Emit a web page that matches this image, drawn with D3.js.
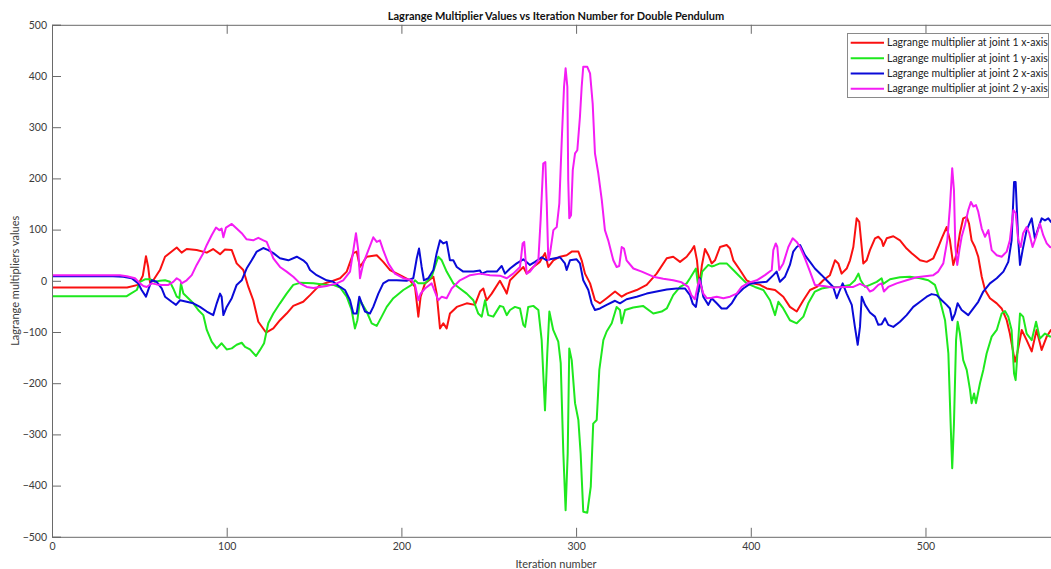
<!DOCTYPE html>
<html><head><meta charset="utf-8">
<script src="https://cdn.jsdelivr.net/npm/d3@7"></script>
<style>body{margin:0;background:#fff}svg{display:block}text{font-family:Lato,"Open Sans",sans-serif}</style>
</head><body><svg id="c" width="1051" height="569"></svg>
<script>
const titleText = "Lagrange Multiplier Values vs Iteration Number for Double Pendulum";
const xLabel = "Iteration number";
const yLabel = "Lagrange multipliers values";
const xTicks = [0,100,200,300,400,500];
const yTicks = [-500,-400,-300,-200,-100,0,100,200,300,400,500];
const seriesNames = ["Lagrange multiplier at joint 1 x-axis","Lagrange multiplier at joint 1 y-axis","Lagrange multiplier at joint 2 x-axis","Lagrange multiplier at joint 2 y-axis"];
const seriesColors = ["#fa1010","#1ee81e","#0a0ad8","#f41cf4"];

const joint1X = [[0,-13],[43,-13],[49.2,-8],[52,10],[53.8,48],[55,28],[56.1,-3],[57.8,0],[61.8,21],[64.7,47],[71.4,65],[74.2,55],[77.1,62],[82.8,60],[88.6,55],[92.2,62],[96.2,52],[99,61],[102.9,60],[105.7,34],[109.5,21],[112.4,-12],[115.2,-38],[118.1,-80],[122.5,-101],[126.7,-93],[130.5,-77],[134.3,-64],[138.1,-49],[143.8,-41],[147.7,-28],[153.4,-8],[159.1,-2],[164.9,5],[168.7,18],[172.5,54],[174.4,57],[176.3,27],[180.1,47],[185.9,50],[189.6,37],[193.5,21],[199.2,11],[204.9,1],[207.8,-12],[209.7,-70],[211,-31],[213.5,-5],[218.3,8],[220.2,-25],[222.1,-93],[224,-83],[225.9,-93],[227.8,-64],[231.7,-51],[237.4,-44],[242.1,-47],[245,-21],[246.9,-15],[248.8,-38],[251.7,-25],[256.4,0],[259.3,-18],[260.3,-25],[262.2,1],[266,14],[269.8,27],[271.7,14],[275.5,27],[279.3,37],[282.2,54],[284.1,27],[287,40],[290.8,47],[294.6,50],[297.5,57],[301.3,57],[303.2,40],[305.1,14],[308,-5],[310.8,-38],[313.7,-44],[317.5,-34],[322.3,-21],[326.1,-31],[329,-25],[334.7,-18],[340.4,-8],[346.1,14],[351.9,44],[355.6,47],[359.5,37],[363.3,47],[366.2,60],[367.6,68],[369.2,40],[370.6,-12],[372,30],[373.8,62],[375.7,50],[377.6,34],[379.5,40],[382.4,66],[386.2,70],[388.1,63],[390,40],[393.8,21],[397.6,1],[401.4,-5],[405.3,-8],[409.1,-15],[413.9,-18],[418.6,-31],[422.4,-51],[426.3,-60],[430.1,-38],[433.9,-18],[437.7,-12],[441.5,1],[445.3,11],[448.2,40],[450.1,34],[452,14],[454.9,24],[456.8,40],[458.7,66],[460.6,122],[462.1,115],[463.5,66],[464.4,34],[466.3,40],[468.2,60],[471.1,83],[473,86],[474.9,79],[475.8,68],[477.8,83],[481.6,87],[485.4,79],[489.2,63],[492.1,54],[496.9,40],[500.7,37],[504.5,44],[507.3,66],[509.3,83],[512.1,105],[514,79],[515.9,31],[517.9,54],[519.7,93],[521.6,122],[523.6,125],[524.9,112],[526.4,79],[528.3,66],[530.2,47],[532.2,8],[534.1,-18],[536.9,-34],[540.8,-44],[543.6,-54],[546.5,-77],[548.3,-103],[551.2,-158],[552.5,-142],[555.1,-96],[557.9,-116],[560.8,-138],[563.6,-96],[566.5,-135],[569.4,-109],[571.8,-96],[577,-100]];

const joint1Y = [[0,-30],[42.8,-30],[44.6,-26],[48.5,-18],[50.4,-2],[53.2,3],[56.1,3],[59,-2],[61.8,0],[64.7,1],[67.5,-2],[69.4,-15],[71.4,-31],[72.9,-34],[73.8,-5],[75.2,-25],[78,-34],[80.9,-44],[83.7,-57],[86.6,-67],[88.6,-96],[91.4,-119],[94.3,-132],[97.1,-122],[100,-134],[102.9,-132],[105.7,-125],[108.6,-121],[110.5,-129],[113.3,-134],[116.8,-147],[119.1,-135],[121.4,-122],[123.8,-83],[126.7,-64],[130.5,-44],[134.3,-25],[138.1,-8],[142,-4],[149.6,-5],[157.2,-8],[161,-8],[164.9,-13],[168.7,-31],[171.5,-57],[173.4,-93],[174.8,-77],[176.3,-38],[180.1,-60],[183,-83],[185.9,-88],[188.7,-70],[191.6,-51],[195.4,-34],[201.1,-18],[205.9,-8],[207.8,1],[209.7,-5],[213.5,-5],[217.3,8],[221.1,47],[223.1,40],[225.9,18],[229.7,-5],[233.5,-15],[237.4,-25],[241.2,-38],[244,-64],[246,-70],[247.9,-38],[249.7,-67],[252.6,-70],[256.4,-49],[258.3,-51],[260.3,-67],[262.2,-57],[265,-51],[267.9,-54],[269.8,-86],[270.8,-90],[272.6,-51],[275.5,-49],[278.4,-57],[280.3,-116],[282.2,-253],[283.5,-142],[284.7,-60],[286.9,-96],[289.8,-119],[291.2,-161],[292.7,-337],[294,-448],[295.2,-337],[296.1,-132],[297.5,-155],[299.4,-239],[301.3,-272],[302.6,-337],[304.1,-451],[306.4,-453],[308.4,-402],[309.8,-279],[311.8,-272],[313.3,-174],[315.6,-116],[317.5,-99],[320.4,-83],[323.2,-51],[325.1,-57],[326.1,-83],[328,-57],[332.7,-52],[338.3,-49],[344.2,-64],[349,-60],[351.9,-54],[355.6,-28],[359.5,-12],[363.3,-5],[365.2,5],[368.6,24],[370.3,-21],[372.2,18],[375.7,31],[377.6,28],[379.5,30],[382.4,34],[386.2,34],[390,21],[393.8,8],[397.6,-5],[402.4,-12],[407.2,-18],[411,-38],[413.9,-67],[415.8,-41],[418.6,-54],[422.4,-77],[426.3,-83],[430.1,-70],[432.9,-44],[436.7,-21],[440.6,-15],[445.3,-12],[451,-12],[456.8,-8],[459.6,1],[461.6,14],[462.9,1],[465.4,-12],[468.2,-8],[472.1,-2],[474.9,5],[475.8,-6],[479.7,3],[485.4,7],[491.1,8],[496.9,5],[501.6,1],[505.4,-8],[508.3,-38],[511.2,-77],[513.1,-142],[514.4,-279],[515.3,-366],[516.3,-279],[517.5,-116],[518.4,-80],[519.7,-103],[521.6,-155],[523.6,-174],[525.5,-213],[526.4,-239],[527.8,-220],[528.9,-239],[531.2,-200],[533.1,-174],[535,-142],[537.9,-109],[540.8,-96],[543.6,-64],[545.5,-59],[547.4,-70],[549.3,-96],[550.7,-181],[551.6,-194],[552.5,-148],[554.1,-64],[555.9,-70],[557.9,-103],[560.8,-116],[563.3,-80],[565.5,-113],[568.4,-103],[571.3,-109],[577,-105]];

const joint2X = [[0,9],[34.9,9],[40.8,8],[45.6,5],[49.4,-5],[51.3,-18],[53.8,-31],[55.7,-12],[57.1,1],[59.9,-2],[62.8,-15],[64.7,-31],[68.5,-41],[71,-47],[73.3,-38],[77.1,-41],[80.9,-44],[84.7,-51],[88.6,-60],[92.3,-67],[94.3,-44],[96.2,-25],[97.1,-31],[98.1,-67],[100,-51],[102.9,-34],[105.7,-8],[108.6,1],[111.4,24],[114.3,40],[117.2,57],[120.9,64],[123.8,60],[126.7,54],[130.5,44],[135.3,40],[140.1,47],[143.8,40],[145.8,34],[147.7,21],[151.5,11],[157.2,1],[161,-2],[164.9,-12],[167.7,-18],[170.6,-38],[172.5,-64],[174.4,-64],[175.9,-31],[177.3,-44],[179.2,-60],[182,-64],[183.9,-51],[186.8,-25],[189.6,-5],[192.5,1],[197.3,1],[203,0],[206.8,5],[208.8,44],[210.1,63],[211.6,27],[212.9,1],[215.4,5],[218.3,21],[220.2,54],[222.1,79],[224,73],[225.9,76],[227.8,40],[229.7,40],[231.7,27],[235.4,18],[241.2,18],[245,20],[246,14],[248.8,18],[254.6,18],[257.4,29],[259.3,14],[262.2,24],[266,34],[269.8,42],[273.6,31],[276.5,37],[280.3,46],[283.2,40],[285.1,42],[287.9,44],[290.8,46],[293.6,34],[294.6,21],[296.5,40],[300.3,42],[302.2,34],[304.1,1],[307,-18],[308.9,-44],[310.8,-57],[313.7,-54],[317.5,-47],[322.3,-39],[325.1,-44],[328.9,-36],[334.7,-31],[340.4,-25],[346.1,-21],[351.9,-17],[357.6,-15],[362.3,-15],[365.2,-28],[366.8,-45],[368.6,-51],[370.2,-15],[370.9,5],[372.8,-31],[375.7,-47],[377.6,-34],[380.5,-44],[383.3,-54],[386.2,-54],[389.1,-44],[391.9,-28],[395.7,-15],[399.5,-6],[403.4,-4],[409.1,-2],[412.9,11],[414.8,18],[416.7,-2],[419.6,8],[422.4,31],[424.3,57],[426.3,66],[428.2,70],[431,50],[433.9,37],[436.7,24],[440.6,11],[443.4,1],[447.2,-12],[449.2,-34],[451,-18],[452.6,-5],[454.9,-25],[457.8,-47],[459.6,-90],[461.2,-125],[462.5,-90],[463.5,-31],[465.4,-47],[468.2,-62],[471.1,-70],[473,-86],[474.9,-85],[476.8,-73],[478.7,-86],[481.6,-90],[485.4,-80],[489.2,-67],[493,-51],[496.9,-41],[500.7,-31],[503.5,-26],[506.4,-28],[509.3,-38],[512.1,-47],[514,-54],[515.3,-77],[516.9,-64],[518.4,-44],[520.7,-57],[524.5,-67],[527.4,-54],[530.2,-41],[533.1,-21],[536.9,-5],[540.8,5],[544.6,18],[547.4,37],[549.3,79],[550.7,193],[551.6,193],[553.1,79],[554.1,31],[555.6,60],[557.9,99],[560.8,122],[562.6,83],[564.5,102],[566.5,122],[568.4,118],[570.3,122],[571.8,115],[577,118]];

const joint2Y = [[0,11],[38.9,11],[42.8,9],[47.5,5],[50.4,-5],[52.3,-10],[54.2,-12],[57.1,-5],[59.9,-7],[62.8,-8],[66.6,-8],[69.4,-2],[71.4,5],[73.3,1],[74.2,-5],[77.1,1],[80,11],[82.8,31],[86.6,54],[88.6,70],[91.4,89],[93.9,104],[95.8,99],[97.1,102],[98.1,85],[99.6,104],[102.9,111],[105.7,102],[108.6,93],[111.4,81],[115.2,79],[118.1,84],[121,79],[122.9,76],[126.7,44],[130.5,27],[134.3,18],[138.1,8],[142,-5],[145.8,-12],[149.6,-14],[157.2,-10],[163,-5],[166.7,1],[170.6,18],[172.5,60],[174,93],[175.3,60],[176.3,5],[178.2,34],[181.1,60],[183.9,85],[185.9,76],[187.7,79],[189.6,60],[192.5,34],[196.3,14],[201.1,5],[205.9,1],[207.8,-8],[209.7,-38],[211,-25],[213.5,-15],[217.3,-5],[221.1,-38],[223.1,-31],[225.9,-34],[228.8,-15],[233.5,1],[239.3,11],[245,14],[250.7,11],[256.4,10],[260.3,5],[264,14],[267.9,27],[269.4,73],[270.3,76],[271.7,14],[273.6,18],[276.5,31],[278.4,40],[279.7,119],[281.2,229],[282.4,232],[283.2,151],[284.1,40],[285.1,54],[287,99],[288.9,105],[290.4,151],[291.8,275],[293.1,379],[294,415],[295,379],[295.5,197],[296.1,122],[297.1,128],[298.1,216],[299.4,249],[300.7,255],[302.2,320],[303.2,379],[304.1,418],[306.4,418],[308,405],[309.5,346],[310.8,249],[312.7,210],[314.7,158],[316.5,99],[318.4,79],[321.3,40],[323.2,27],[324.7,29],[326.1,66],[327.4,63],[328.9,40],[332.8,24],[337.6,18],[344.2,8],[349.9,4],[355.6,1],[360.4,-3],[364.2,-12],[366,-28],[368,-36],[370.5,3],[372.8,-25],[374.8,-34],[377.6,-33],[380.5,-31],[384.3,-34],[388.1,-31],[391.9,-25],[394.8,-12],[398.6,-4],[403.4,1],[408.1,11],[412,21],[412.9,60],[414.3,73],[415.2,66],[416.3,21],[418.6,34],[421.5,66],[424,83],[426.3,76],[428.2,66],[431,44],[433.9,18],[436.7,-8],[441.5,-10],[447.2,-13],[452.9,-12],[458.7,-12],[462.5,-6],[466.3,-12],[468.2,-21],[470.1,-18],[473,-8],[474.9,-5],[476.2,-21],[478.7,-12],[483.5,-5],[489.2,1],[494.9,7],[499.7,9],[504.5,11],[507.3,18],[510.2,34],[512.5,79],[514,145],[515.3,220],[516.3,177],[517.1,66],[518.2,31],[519.4,60],[520.7,86],[522.6,109],[524.5,138],[526,154],[527.4,145],[528.9,148],[530.2,135],[532.2,102],[534.1,86],[536,99],[537.9,60],[540.8,50],[543.6,47],[546.5,57],[548.3,79],[550.3,138],[551.6,132],[553.1,79],[554.5,66],[555.9,93],[557.9,105],[559.4,93],[561.3,66],[563.3,86],[565.5,112],[567.4,89],[569.4,73],[571.3,66],[577,62]];

const allSeries = [joint1X, joint1Y, joint2X, joint2Y];

const svg = d3.select("#c");
const W = 1051, H = 569;
const pLeft = 52, pRight = 1060, pTop = 24.8, pBottom = 536.8;
const x = d3.scaleLinear().domain([0, 577]).range([pLeft, pRight]);
const y = d3.scaleLinear().domain([-500, 500]).range([pBottom, pTop]);

svg.append("rect").attr("width", W).attr("height", H).attr("fill", "#fff");

svg.append("defs").append("clipPath").attr("id", "clip")
  .append("rect").attr("x", pLeft).attr("y", pTop).attr("width", pRight - pLeft).attr("height", pBottom - pTop);

const axisColor = "#6a6a6a", textColor = "#3c3c3c";

const line = d3.line().x(d => x(d[0])).y(d => y(d[1]));
const g = svg.append("g").attr("clip-path", "url(#clip)");
allSeries.forEach((s, i) => {
  g.append("path").datum(s).attr("d", line).attr("fill", "none")
    .attr("stroke", seriesColors[i]).attr("stroke-width", 2).attr("stroke-linejoin", "round");
});

function styleAxis(sel) {
  sel.select(".domain").attr("stroke", axisColor);
  sel.selectAll(".tick line").attr("stroke", axisColor);
  sel.selectAll(".tick text").attr("fill", textColor).attr("font-size", 10.5).attr("font-family", "Lato, sans-serif");
}
svg.append("g").attr("transform", `translate(${pLeft},0)`)
  .call(d3.axisLeft(y).tickValues(yTicks).tickSize(-9).tickPadding(5)).call(styleAxis);
svg.append("g").attr("transform", `translate(0,${pBottom})`)
  .call(d3.axisBottom(x).tickValues(xTicks).tickSize(-9).tickPadding(6)).call(styleAxis);
svg.append("g").attr("transform", `translate(0,${pTop})`)
  .call(d3.axisTop(x).tickValues(xTicks).tickSize(-9).tickFormat("")).call(styleAxis);

svg.append("text").attr("x", (pLeft + pRight) / 2).attr("y", 20).attr("text-anchor", "middle")
  .attr("font-size", 11).attr("font-weight", "bold").attr("fill", "#111").text(titleText);
svg.append("text").attr("x", (pLeft + pRight) / 2).attr("y", 568).attr("text-anchor", "middle")
  .attr("font-size", 11).attr("fill", textColor).text(xLabel);
svg.append("text").attr("transform", `translate(19,${(pTop + pBottom) / 2}) rotate(-90)`).attr("text-anchor", "middle")
  .attr("font-size", 11).attr("fill", textColor).text(yLabel);

const lg = svg.append("g");
lg.append("rect").attr("x", 847.5).attr("y", 33.5).attr("width", 201).attr("height", 64)
  .attr("fill", "#fff").attr("stroke", "#8a8a8a").attr("stroke-width", 1);
const rowY = [42.7, 58.2, 73.6, 88.8];
seriesNames.forEach((n, i) => {
  lg.append("line").attr("x1", 850.7).attr("x2", 884).attr("y1", rowY[i]).attr("y2", rowY[i])
    .attr("stroke", seriesColors[i]).attr("stroke-width", 2);
  lg.append("text").attr("x", 887).attr("y", rowY[i]).attr("dy", "0.35em").attr("font-size", 10.5)
    .attr("fill", "#222").text(n);
});
</script></body></html>
